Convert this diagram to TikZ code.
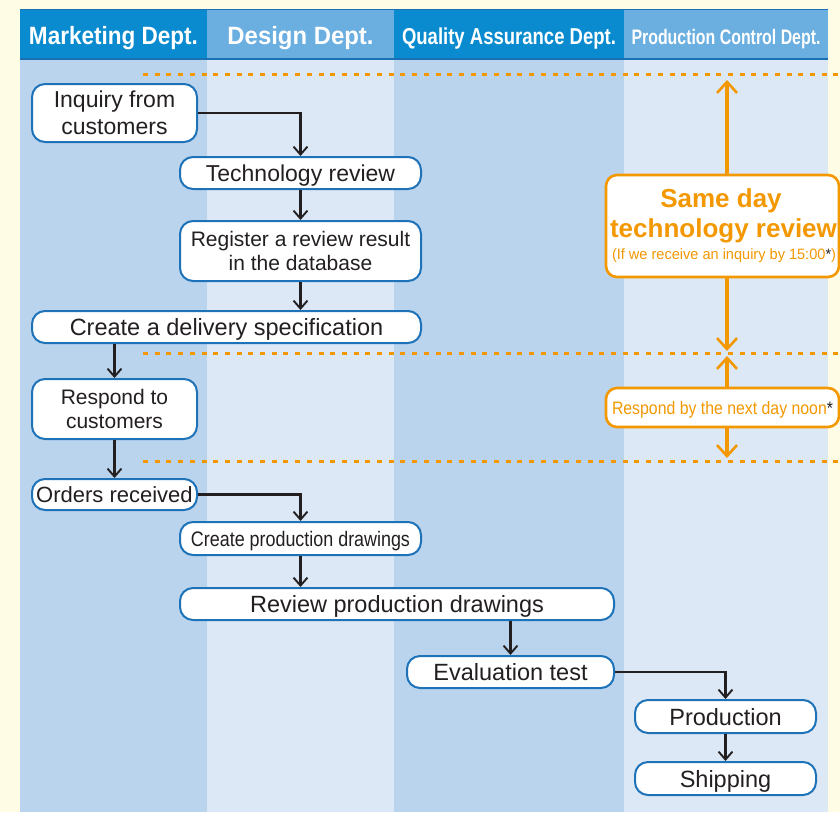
\documentclass[tikz,border=0pt]{standalone}
\usepackage{fontspec}
\setmainfont{Liberation Sans}
\usepackage{graphicx}
\usetikzlibrary{arrows.meta}
\definecolor{cream}{HTML}{FFFCE6}
\definecolor{hdark}{HTML}{0A8BCF}
\definecolor{hlight}{HTML}{6BAEE0}
\definecolor{hline}{HTML}{1B6FB3}
\definecolor{bdark}{HTML}{BAD4EE}
\definecolor{blight}{HTML}{DCE8F6}
\definecolor{boxblue}{HTML}{1E72B8}
\definecolor{tdark}{HTML}{231F20}
\definecolor{orng}{HTML}{F39800}
\begin{document}
\begin{tikzpicture}[x=1pt,y=-1pt,
  hdr/.style={rectangle, inner sep=0pt, text=white, font=\bfseries, text height=21pt, text depth=0pt},
  flow/.style={draw=boxblue, line width=2pt, fill=white, rounded corners=13pt,
    inner sep=0pt, align=center, text=tdark, text depth=0pt},
  obox/.style={draw=orng, line width=2.6pt, fill=white, rounded corners=11pt,
    inner sep=0pt, align=center, text=orng, text depth=0pt},
  otext/.style={anchor=base, inner sep=0pt, text=orng},
  conn/.style={draw=tdark, line width=2.2pt, -{Straight Barb[length=8pt,width=14pt,line width=1.9pt]}},
  oconn/.style={draw=orng, line width=3.4pt, -{Straight Barb[length=11pt,width=20pt,line width=2.6pt]}},
  dots/.style={draw=orng, line width=3pt, dash pattern=on 5pt off 6.7pt},
  fs/.style={font=\fontsize{#1}{27}\selectfont}
]
\useasboundingbox (0,0) rectangle (840,812);
\fill[cream] (0,0) rectangle (840,812);
% lane bodies
\fill[bdark]  (20,58)  rectangle (207,812);
\fill[blight] (207,58) rectangle (394,812);
\fill[bdark]  (394,58) rectangle (624,812);
\fill[blight] (624,58) rectangle (828,812);
% headers
\node[hdr, fill=hdark,  minimum width=187, minimum height=49] (hm) at (113.5,33.5)
  {\fontsize{25}{28}\selectfont\resizebox{169pt}{\height}{Marketing Dept.}};
\node[hdr, fill=hlight, minimum width=187, minimum height=49] (hd) at (300.5,33.5)
  {\fontsize{25}{28}\selectfont\resizebox{146pt}{\height}{Design Dept.}};
\node[hdr, fill=hdark,  minimum width=230, minimum height=49] (hq) at (509,33.5)
  {\fontsize{23}{26}\selectfont\resizebox{214pt}{\height}{Quality Assurance Dept.}};
\node[hdr, fill=hlight, minimum width=204, minimum height=49] (hp) at (726,33.5)
  {\fontsize{21}{24}\selectfont\resizebox{189pt}{\height}{Production Control Dept.}};
\draw[hline, line width=0.8pt] (20,9.4) -- (828,9.4);
\draw[hline, line width=2pt] (20,59) -- (828,59);
% dotted separators
\draw[dots] (143,74) -- (840,74);
\draw[dots] (143,353) -- (840,353);
\draw[dots] (143,461) -- (840,461);
% flow nodes
\node[flow, fs=23, minimum width=165, minimum height=58] (inq) at (114.5,113) {Inquiry from\\customers};
\node[flow, fs=23, minimum width=241, minimum height=32] (tech) at (300.5,173) {Technology review};
\node[flow, font=\fontsize{21}{24}\selectfont, minimum width=241, minimum height=60] (reg) at (300.5,251) {Register a review result\\in the database};
\node[flow, fs=23.5, minimum width=389, minimum height=32] (spec) at (226.5,327) {Create a delivery specification};
\node[flow, font=\fontsize{21}{24}\selectfont, minimum width=165, minimum height=60] (resp) at (114.5,409) {Respond to\\customers};
\node[flow, fs=22, minimum width=165, minimum height=31] (ord) at (114.5,494.5) {Orders received};
\node[flow, fs=21, minimum width=241, minimum height=33] (cpd) at (300.5,538.5) {\resizebox{219pt}{\height}{Create production drawings}};
\node[flow, fs=23.5, minimum width=434, minimum height=32] (rpd) at (397,604) {Review production drawings};
\node[flow, fs=23.5, minimum width=207, minimum height=32] (eval) at (510.5,672) {Evaluation test};
\node[flow, fs=23.5, minimum width=181, minimum height=33] (prod) at (725.5,716.5) {Production};
\node[flow, fs=23.5, minimum width=181, minimum height=33] (ship) at (725.5,778.5) {Shipping};
% connectors
\draw[conn] (inq.east) -| (tech.north);
\draw[conn] (tech.south) -- (reg.north);
\draw[conn] (reg.south) -- (reg.south |- spec.north);
\draw[conn] (resp.north |- spec.south) -- (resp.north);
\draw[conn] (resp.south) -- (ord.north);
\draw[conn] (ord.east) -| (cpd.north);
\draw[conn] (cpd.south) -- (cpd.south |- rpd.north);
\draw[conn] (eval.north |- rpd.south) -- (eval.north);
\draw[conn] (eval.east) -| (prod.north);
\draw[conn] (prod.south) -- (ship.north);
% orange annotations
\node[obox, minimum width=233, minimum height=102] (same) at (722.5,226) {};
\node[otext, font=\bfseries\fontsize{26}{30}\selectfont] (sameA) at (721,207) {Same day};
\node[otext, font=\bfseries\fontsize{26}{30}\selectfont] (sameB) at (723.5,237) {technology review};
\node[otext, font=\fontsize{15}{17}\selectfont] (sameC) at (724,259)
  {\resizebox{224pt}{\height}{(If we receive an inquiry by 15:00\textcolor{tdark}{*})}};
\node[obox, minimum width=233, minimum height=39] (noon) at (722.5,407.5)
  {\fontsize{18}{21}\selectfont\resizebox{221pt}{\height}{Respond by the next day noon\textcolor{tdark}{*}}};
\coordinate (tA) at (727,80);
\coordinate (tB) at (727,351);
\coordinate (tC) at (727,356);
\coordinate (tD) at (727,458);
\draw[oconn] (tA |- same.north) -- (tA);
\draw[oconn] (tB |- same.south) -- (tB);
\draw[oconn] (tC |- noon.north) -- (tC);
\draw[oconn] (tD |- noon.south) -- (tD);
\end{tikzpicture}
\end{document}
